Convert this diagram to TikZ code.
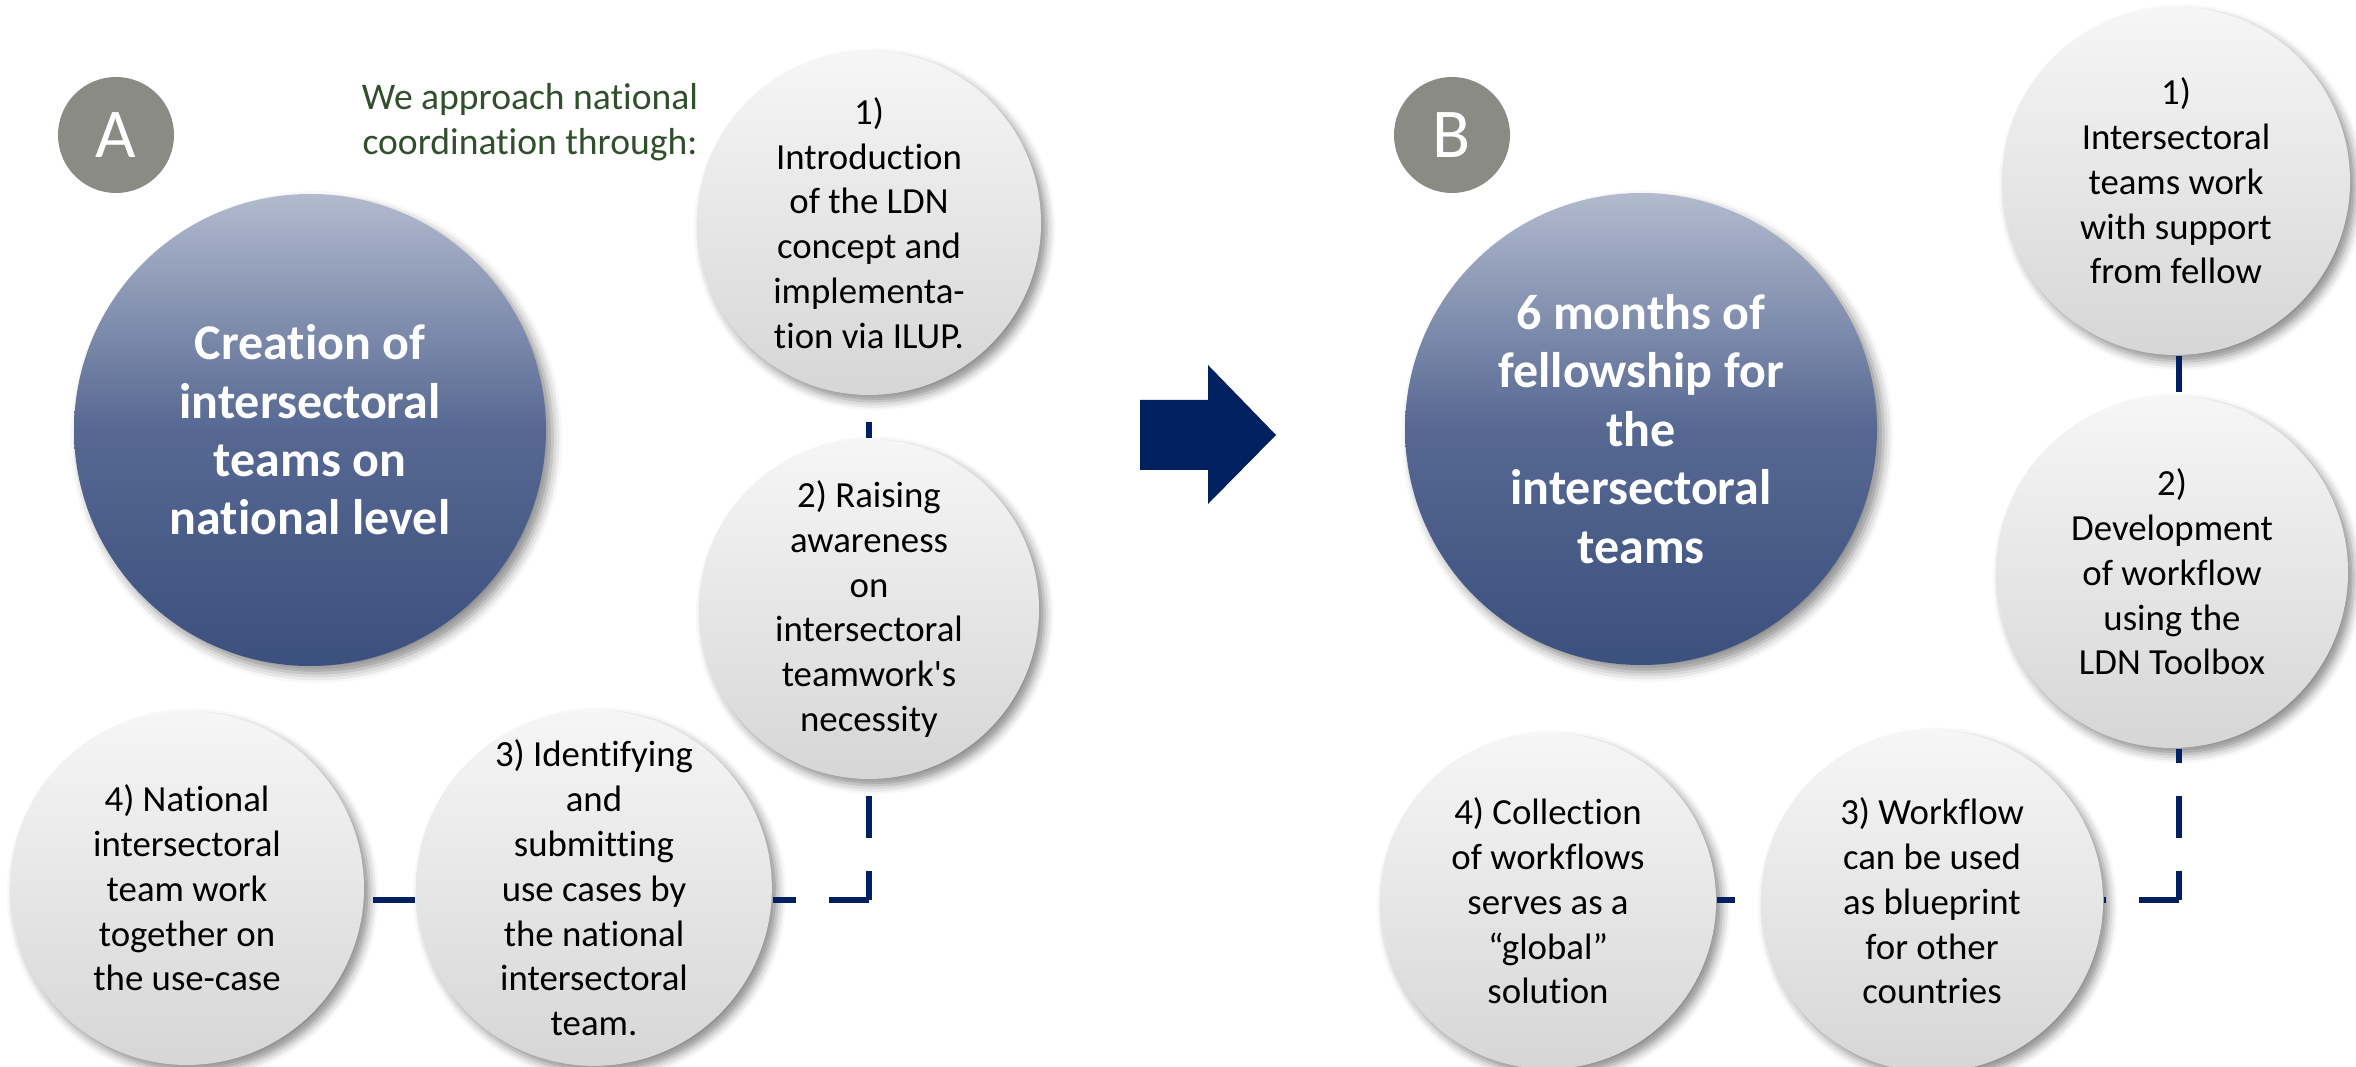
\documentclass[tikz,border=0pt]{standalone}
\usepackage{fontspec}
\setmainfont{Carlito}[Ligatures=NoCommon]
\newfontfamily\bodyfont{Carlito}[Ligatures=NoCommon]
\usetikzlibrary{shadows.blur}
\definecolor{navy}{RGB}{0,32,96}
\definecolor{badgegray}{RGB}{138,139,133}
\definecolor{bigtop}{RGB}{178,186,206}
\definecolor{bigmid}{RGB}{86,104,146}
\definecolor{bigbot}{RGB}{60,80,126}
\definecolor{smtop}{RGB}{246,246,246}
\definecolor{smbot}{RGB}{214,214,214}
\definecolor{greentxt}{RGB}{48,80,44}
\begin{document}
\begin{tikzpicture}[x=0.25pt,y=-0.25pt,
  badge/.style={circle, fill=badgegray, minimum size=29pt, inner sep=0pt,
    text=white, font=\bodyfont\fontsize{17.5}{20}\selectfont},
  bigc/.style={circle, minimum size=118pt, inner sep=0pt,
    top color=bigtop, bottom color=bigbot, middle color=bigmid,
    text=white, align=center, font=\bodyfont\bfseries\fontsize{12.5}{14.6}\selectfont,
    blur shadow={shadow xshift=1.6pt, shadow yshift=-1.8pt, shadow blur radius=2.5pt, shadow opacity=45}},
  smallc/.style={circle, minimum size=86pt, inner sep=0pt,
    top color=smtop, bottom color=smbot, align=center,
    font=\bodyfont\fontsize{9.2}{11.2}\selectfont,
    blur shadow={shadow xshift=1.4pt, shadow yshift=-1.6pt, shadow blur radius=2.2pt, shadow opacity=45}},
  greennote/.style={align=center, text=greentxt, font=\bodyfont\fontsize{9.4}{11.2}\selectfont, inner sep=0pt},
  conn/.style={draw=navy, line width=1.5pt, dash pattern=on 10.5pt off 8.25pt}
]
\useasboundingbox (0,0) rectangle (2356,1067);

% ---------- Part A ----------
\node[badge] (ba) at (116,135) {A};
\node[bigc] (ca) at (310,430) {Creation of\\intersectoral\\teams on\\national level};
\node[greennote] (intro) at (530,122) {We approach national\\coordination through:};
\node[smallc] (a1) at (869,223) {1)\\Introduction\\of the LDN\\concept and\\implementa-\\tion via ILUP.};
\node[smallc, minimum size=85pt] (a2) at (869,609) {2) Raising\\awareness\\on\\intersectoral\\teamwork's\\necessity};
\node[smallc, minimum size=88.5pt] (a3) at (594,888) {3) Identifying\\and\\submitting\\use cases by\\the national\\intersectoral\\team.};
\node[smallc, minimum size=88.5pt] (a4) at (187,888) {4) National\\intersectoral\\team work\\together on\\the use-case};

\coordinate (ka) at (869,900);
\draw[conn, dash phase=6.5pt] (a2.north) -- (a1.south);
\draw[conn, dash phase=3.25pt] (ka) -- (a2.south);
\draw[conn, dash phase=0.5pt] (ka) -- (ka -| a3.east);
\draw[conn] (a3.west |- ka) -- (a4.east |- ka);

% ---------- Arrow ----------
\fill[navy] (1140,400) -- (1208,400) -- (1208,365) -- (1276,435) -- (1208,504) -- (1208,470) -- (1140,470) -- cycle;

% ---------- Part B ----------
\node[badge] (bb) at (1452,135) {B};
\node[bigc] (cb) at (1641,429) {6 months of\\fellowship for\\the\\intersectoral\\teams};
\node[smallc, minimum size=87pt] (b1) at (2176,181) {1)\\Intersectoral\\teams work\\with support\\from fellow};
\node[smallc, minimum size=88pt] (b2) at (2172,572) {2)\\Development\\of workflow\\using the\\LDN Toolbox};
\node[smallc, minimum size=85.5pt] (b3) at (1932,901) {3) Workflow\\can be used\\as blueprint\\for other\\countries};
\node[smallc, minimum size=84pt] (b4) at (1548,901) {4) Collection\\of workflows\\serves as a\\“global”\\solution};

\coordinate (kb) at (2179,900);
\draw[conn, dash phase=1.5pt] (kb |- b1.south) -- (kb |- b2.north);
\draw[conn, dash phase=3.25pt] (kb) -- (kb |- b2.south);
\draw[conn, dash phase=0.5pt] (kb) -- (kb -| b3.east);
\draw[conn, dash phase=6pt] (b4.east |- kb) -- (b3.west |- kb);
\end{tikzpicture}
\end{document}
